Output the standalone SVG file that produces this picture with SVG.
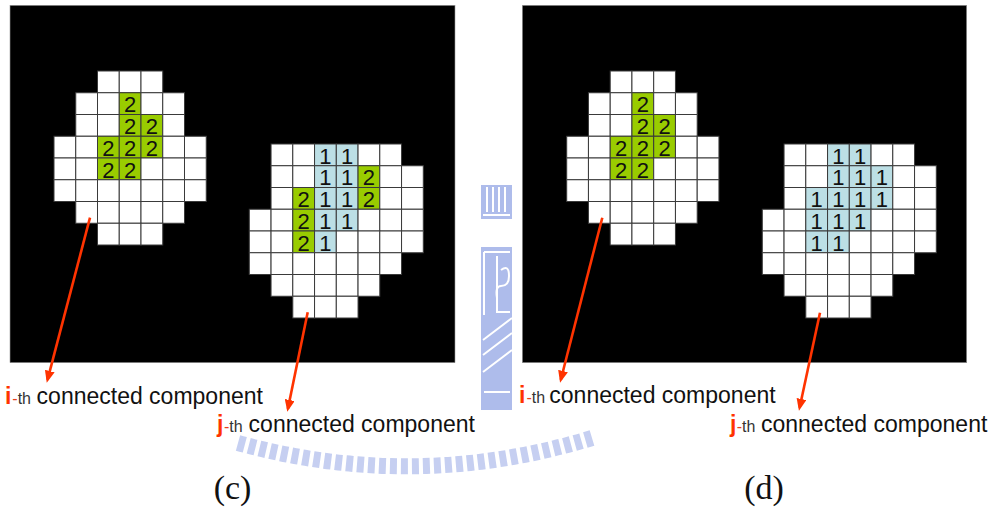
<svg xmlns="http://www.w3.org/2000/svg" width="996" height="508" viewBox="0 0 996 508">
<style>
.panel{fill:#000;stroke:#9a9a9a;stroke-width:0.6}
.w{fill:#fff;stroke:#3a3a3a;stroke-width:1}
.g{fill:#99cc00;stroke:#3a3a3a;stroke-width:1}
.b{fill:#bcdfe5;stroke:#3a3a3a;stroke-width:1}
.d{font-family:"Liberation Sans",Arial,sans-serif;font-size:22px;fill:#111;text-anchor:middle}
.lbl{font-family:"Liberation Sans",Arial,sans-serif;font-size:23px;fill:#111}
.ij{font-weight:bold;fill:#ff3300}
.th{font-size:16px;fill:#333}
.hy{fill:#e8401a}
.cap{font-family:"Liberation Serif","Times New Roman",serif;font-size:34px;fill:#111;text-anchor:middle}
.arr{stroke:#ff3300;stroke-width:2.6;fill:none;marker-end:url(#ah)}
.wm{fill:#aab9ea}
.wml{stroke:#fff;stroke-width:2;fill:none}
</style>
<defs>
<marker id="ah" viewBox="0 0 12 10" refX="9" refY="5" markerWidth="12" markerHeight="10" markerUnits="userSpaceOnUse" orient="auto">
<path d="M0,0 L12,5 L0,10 z" fill="#ff3300"/>
</marker>
</defs>
<rect width="996" height="508" fill="#fff"/>

<g id="watermark" opacity="0.95">
<rect class="wm" x="481" y="185" width="31" height="34"/>
<path class="wml" d="M487 187 V212 M493 187 V212 M499 187 V212 M505 187 V212 M483 215 H510"/>
<rect class="wm" x="481" y="247" width="31" height="163"/>
<path class="wml" d="M484 252 H510 M484 252 V315 M497 256 V312 H510 M501 270 q8 -6 8 6 q0 10 -8 10 q-6 0 -4 12 M483 340 L512 318 M483 355 L512 333 M483 372 L512 350 M484 392 H510"/>
<path d="M238 443 Q415 492 592 438" stroke="#c3cdf1" stroke-width="16" fill="none" stroke-dasharray="7 4"/>
</g>

<g id="panel-c">
<rect class="panel" x="10" y="5.3" width="445" height="357.4"/>
</g>
<g id="panel-d">
<rect class="panel" x="522.3" y="5.3" width="444.4" height="357.4"/>
</g>

<g id="blob-c-i" transform="translate(54,71)">
<rect class="w" x="43.5" y="0" width="21.75" height="21.75"/><rect class="w" x="65.25" y="0" width="21.75" height="21.75"/><rect class="w" x="87" y="0" width="21.75" height="21.75"/>
<rect class="w" x="21.75" y="21.75" width="21.75" height="21.75"/><rect class="w" x="43.5" y="21.75" width="21.75" height="21.75"/><rect class="g" x="65.25" y="21.75" width="21.75" height="21.75"/><rect class="w" x="87" y="21.75" width="21.75" height="21.75"/><rect class="w" x="108.75" y="21.75" width="21.75" height="21.75"/>
<rect class="w" x="21.75" y="43.5" width="21.75" height="21.75"/><rect class="w" x="43.5" y="43.5" width="21.75" height="21.75"/><rect class="g" x="65.25" y="43.5" width="21.75" height="21.75"/><rect class="g" x="87" y="43.5" width="21.75" height="21.75"/><rect class="w" x="108.75" y="43.5" width="21.75" height="21.75"/>
<rect class="w" x="0" y="65.25" width="21.75" height="21.75"/><rect class="w" x="21.75" y="65.25" width="21.75" height="21.75"/><rect class="g" x="43.5" y="65.25" width="21.75" height="21.75"/><rect class="g" x="65.25" y="65.25" width="21.75" height="21.75"/><rect class="g" x="87" y="65.25" width="21.75" height="21.75"/><rect class="w" x="108.75" y="65.25" width="21.75" height="21.75"/><rect class="w" x="130.5" y="65.25" width="21.75" height="21.75"/>
<rect class="w" x="0" y="87" width="21.75" height="21.75"/><rect class="w" x="21.75" y="87" width="21.75" height="21.75"/><rect class="g" x="43.5" y="87" width="21.75" height="21.75"/><rect class="g" x="65.25" y="87" width="21.75" height="21.75"/><rect class="w" x="87" y="87" width="21.75" height="21.75"/><rect class="w" x="108.75" y="87" width="21.75" height="21.75"/><rect class="w" x="130.5" y="87" width="21.75" height="21.75"/>
<rect class="w" x="0" y="108.75" width="21.75" height="21.75"/><rect class="w" x="21.75" y="108.75" width="21.75" height="21.75"/><rect class="w" x="43.5" y="108.75" width="21.75" height="21.75"/><rect class="w" x="65.25" y="108.75" width="21.75" height="21.75"/><rect class="w" x="87" y="108.75" width="21.75" height="21.75"/><rect class="w" x="108.75" y="108.75" width="21.75" height="21.75"/><rect class="w" x="130.5" y="108.75" width="21.75" height="21.75"/>
<rect class="w" x="21.75" y="130.5" width="21.75" height="21.75"/><rect class="w" x="43.5" y="130.5" width="21.75" height="21.75"/><rect class="w" x="65.25" y="130.5" width="21.75" height="21.75"/><rect class="w" x="87" y="130.5" width="21.75" height="21.75"/><rect class="w" x="108.75" y="130.5" width="21.75" height="21.75"/>
<rect class="w" x="43.5" y="152.25" width="21.75" height="21.75"/><rect class="w" x="65.25" y="152.25" width="21.75" height="21.75"/><rect class="w" x="87" y="152.25" width="21.75" height="21.75"/>
<text class="d" x="76.125" y="41.25">2</text>
<text class="d" x="76.125" y="63">2</text><text class="d" x="97.875" y="63">2</text>
<text class="d" x="54.375" y="84.75">2</text><text class="d" x="76.125" y="84.75">2</text><text class="d" x="97.875" y="84.75">2</text>
<text class="d" x="54.375" y="106.5">2</text><text class="d" x="76.125" y="106.5">2</text>
</g>

<g id="blob-c-j" transform="translate(249.3,144)">
<rect class="w" x="21.75" y="0" width="21.75" height="21.75"/><rect class="w" x="43.5" y="0" width="21.75" height="21.75"/><rect class="b" x="65.25" y="0" width="21.75" height="21.75"/><rect class="b" x="87" y="0" width="21.75" height="21.75"/><rect class="w" x="108.75" y="0" width="21.75" height="21.75"/><rect class="w" x="130.5" y="0" width="21.75" height="21.75"/>
<rect class="w" x="21.75" y="21.75" width="21.75" height="21.75"/><rect class="w" x="43.5" y="21.75" width="21.75" height="21.75"/><rect class="b" x="65.25" y="21.75" width="21.75" height="21.75"/><rect class="b" x="87" y="21.75" width="21.75" height="21.75"/><rect class="g" x="108.75" y="21.75" width="21.75" height="21.75"/><rect class="w" x="130.5" y="21.75" width="21.75" height="21.75"/><rect class="w" x="152.25" y="21.75" width="21.75" height="21.75"/>
<rect class="w" x="21.75" y="43.5" width="21.75" height="21.75"/><rect class="g" x="43.5" y="43.5" width="21.75" height="21.75"/><rect class="b" x="65.25" y="43.5" width="21.75" height="21.75"/><rect class="b" x="87" y="43.5" width="21.75" height="21.75"/><rect class="g" x="108.75" y="43.5" width="21.75" height="21.75"/><rect class="w" x="130.5" y="43.5" width="21.75" height="21.75"/><rect class="w" x="152.25" y="43.5" width="21.75" height="21.75"/>
<rect class="w" x="0" y="65.25" width="21.75" height="21.75"/><rect class="w" x="21.75" y="65.25" width="21.75" height="21.75"/><rect class="g" x="43.5" y="65.25" width="21.75" height="21.75"/><rect class="b" x="65.25" y="65.25" width="21.75" height="21.75"/><rect class="b" x="87" y="65.25" width="21.75" height="21.75"/><rect class="w" x="108.75" y="65.25" width="21.75" height="21.75"/><rect class="w" x="130.5" y="65.25" width="21.75" height="21.75"/><rect class="w" x="152.25" y="65.25" width="21.75" height="21.75"/>
<rect class="w" x="0" y="87" width="21.75" height="21.75"/><rect class="w" x="21.75" y="87" width="21.75" height="21.75"/><rect class="g" x="43.5" y="87" width="21.75" height="21.75"/><rect class="b" x="65.25" y="87" width="21.75" height="21.75"/><rect class="w" x="87" y="87" width="21.75" height="21.75"/><rect class="w" x="108.75" y="87" width="21.75" height="21.75"/><rect class="w" x="130.5" y="87" width="21.75" height="21.75"/><rect class="w" x="152.25" y="87" width="21.75" height="21.75"/>
<rect class="w" x="0" y="108.75" width="21.75" height="21.75"/><rect class="w" x="21.75" y="108.75" width="21.75" height="21.75"/><rect class="w" x="43.5" y="108.75" width="21.75" height="21.75"/><rect class="w" x="65.25" y="108.75" width="21.75" height="21.75"/><rect class="w" x="87" y="108.75" width="21.75" height="21.75"/><rect class="w" x="108.75" y="108.75" width="21.75" height="21.75"/><rect class="w" x="130.5" y="108.75" width="21.75" height="21.75"/>
<rect class="w" x="21.75" y="130.5" width="21.75" height="21.75"/><rect class="w" x="43.5" y="130.5" width="21.75" height="21.75"/><rect class="w" x="65.25" y="130.5" width="21.75" height="21.75"/><rect class="w" x="87" y="130.5" width="21.75" height="21.75"/><rect class="w" x="108.75" y="130.5" width="21.75" height="21.75"/>
<rect class="w" x="43.5" y="152.25" width="21.75" height="21.75"/><rect class="w" x="65.25" y="152.25" width="21.75" height="21.75"/><rect class="w" x="87" y="152.25" width="21.75" height="21.75"/>
<text class="d" x="76.125" y="19.5">1</text><text class="d" x="97.875" y="19.5">1</text>
<text class="d" x="76.125" y="41.25">1</text><text class="d" x="97.875" y="41.25">1</text><text class="d" x="119.625" y="41.25">2</text>
<text class="d" x="54.375" y="63">2</text><text class="d" x="76.125" y="63">1</text><text class="d" x="97.875" y="63">1</text><text class="d" x="119.625" y="63">2</text>
<text class="d" x="54.375" y="84.75">2</text><text class="d" x="76.125" y="84.75">1</text><text class="d" x="97.875" y="84.75">1</text>
<text class="d" x="54.375" y="106.5">2</text><text class="d" x="76.125" y="106.5">1</text>
</g>

<g id="blob-d-i" transform="translate(566.7,71)">
<rect class="w" x="43.5" y="0" width="21.75" height="21.75"/><rect class="w" x="65.25" y="0" width="21.75" height="21.75"/><rect class="w" x="87" y="0" width="21.75" height="21.75"/>
<rect class="w" x="21.75" y="21.75" width="21.75" height="21.75"/><rect class="w" x="43.5" y="21.75" width="21.75" height="21.75"/><rect class="g" x="65.25" y="21.75" width="21.75" height="21.75"/><rect class="w" x="87" y="21.75" width="21.75" height="21.75"/><rect class="w" x="108.75" y="21.75" width="21.75" height="21.75"/>
<rect class="w" x="21.75" y="43.5" width="21.75" height="21.75"/><rect class="w" x="43.5" y="43.5" width="21.75" height="21.75"/><rect class="g" x="65.25" y="43.5" width="21.75" height="21.75"/><rect class="g" x="87" y="43.5" width="21.75" height="21.75"/><rect class="w" x="108.75" y="43.5" width="21.75" height="21.75"/>
<rect class="w" x="0" y="65.25" width="21.75" height="21.75"/><rect class="w" x="21.75" y="65.25" width="21.75" height="21.75"/><rect class="g" x="43.5" y="65.25" width="21.75" height="21.75"/><rect class="g" x="65.25" y="65.25" width="21.75" height="21.75"/><rect class="g" x="87" y="65.25" width="21.75" height="21.75"/><rect class="w" x="108.75" y="65.25" width="21.75" height="21.75"/><rect class="w" x="130.5" y="65.25" width="21.75" height="21.75"/>
<rect class="w" x="0" y="87" width="21.75" height="21.75"/><rect class="w" x="21.75" y="87" width="21.75" height="21.75"/><rect class="g" x="43.5" y="87" width="21.75" height="21.75"/><rect class="g" x="65.25" y="87" width="21.75" height="21.75"/><rect class="w" x="87" y="87" width="21.75" height="21.75"/><rect class="w" x="108.75" y="87" width="21.75" height="21.75"/><rect class="w" x="130.5" y="87" width="21.75" height="21.75"/>
<rect class="w" x="0" y="108.75" width="21.75" height="21.75"/><rect class="w" x="21.75" y="108.75" width="21.75" height="21.75"/><rect class="w" x="43.5" y="108.75" width="21.75" height="21.75"/><rect class="w" x="65.25" y="108.75" width="21.75" height="21.75"/><rect class="w" x="87" y="108.75" width="21.75" height="21.75"/><rect class="w" x="108.75" y="108.75" width="21.75" height="21.75"/><rect class="w" x="130.5" y="108.75" width="21.75" height="21.75"/>
<rect class="w" x="21.75" y="130.5" width="21.75" height="21.75"/><rect class="w" x="43.5" y="130.5" width="21.75" height="21.75"/><rect class="w" x="65.25" y="130.5" width="21.75" height="21.75"/><rect class="w" x="87" y="130.5" width="21.75" height="21.75"/><rect class="w" x="108.75" y="130.5" width="21.75" height="21.75"/>
<rect class="w" x="43.5" y="152.25" width="21.75" height="21.75"/><rect class="w" x="65.25" y="152.25" width="21.75" height="21.75"/><rect class="w" x="87" y="152.25" width="21.75" height="21.75"/>
<text class="d" x="76.125" y="41.25">2</text>
<text class="d" x="76.125" y="63">2</text><text class="d" x="97.875" y="63">2</text>
<text class="d" x="54.375" y="84.75">2</text><text class="d" x="76.125" y="84.75">2</text><text class="d" x="97.875" y="84.75">2</text>
<text class="d" x="54.375" y="106.5">2</text><text class="d" x="76.125" y="106.5">2</text>
</g>

<g id="blob-d-j" transform="translate(762.3,144)">
<rect class="w" x="21.75" y="0" width="21.75" height="21.75"/><rect class="w" x="43.5" y="0" width="21.75" height="21.75"/><rect class="b" x="65.25" y="0" width="21.75" height="21.75"/><rect class="b" x="87" y="0" width="21.75" height="21.75"/><rect class="w" x="108.75" y="0" width="21.75" height="21.75"/><rect class="w" x="130.5" y="0" width="21.75" height="21.75"/>
<rect class="w" x="21.75" y="21.75" width="21.75" height="21.75"/><rect class="w" x="43.5" y="21.75" width="21.75" height="21.75"/><rect class="b" x="65.25" y="21.75" width="21.75" height="21.75"/><rect class="b" x="87" y="21.75" width="21.75" height="21.75"/><rect class="b" x="108.75" y="21.75" width="21.75" height="21.75"/><rect class="w" x="130.5" y="21.75" width="21.75" height="21.75"/><rect class="w" x="152.25" y="21.75" width="21.75" height="21.75"/>
<rect class="w" x="21.75" y="43.5" width="21.75" height="21.75"/><rect class="b" x="43.5" y="43.5" width="21.75" height="21.75"/><rect class="b" x="65.25" y="43.5" width="21.75" height="21.75"/><rect class="b" x="87" y="43.5" width="21.75" height="21.75"/><rect class="b" x="108.75" y="43.5" width="21.75" height="21.75"/><rect class="w" x="130.5" y="43.5" width="21.75" height="21.75"/><rect class="w" x="152.25" y="43.5" width="21.75" height="21.75"/>
<rect class="w" x="0" y="65.25" width="21.75" height="21.75"/><rect class="w" x="21.75" y="65.25" width="21.75" height="21.75"/><rect class="b" x="43.5" y="65.25" width="21.75" height="21.75"/><rect class="b" x="65.25" y="65.25" width="21.75" height="21.75"/><rect class="b" x="87" y="65.25" width="21.75" height="21.75"/><rect class="w" x="108.75" y="65.25" width="21.75" height="21.75"/><rect class="w" x="130.5" y="65.25" width="21.75" height="21.75"/><rect class="w" x="152.25" y="65.25" width="21.75" height="21.75"/>
<rect class="w" x="0" y="87" width="21.75" height="21.75"/><rect class="w" x="21.75" y="87" width="21.75" height="21.75"/><rect class="b" x="43.5" y="87" width="21.75" height="21.75"/><rect class="b" x="65.25" y="87" width="21.75" height="21.75"/><rect class="w" x="87" y="87" width="21.75" height="21.75"/><rect class="w" x="108.75" y="87" width="21.75" height="21.75"/><rect class="w" x="130.5" y="87" width="21.75" height="21.75"/><rect class="w" x="152.25" y="87" width="21.75" height="21.75"/>
<rect class="w" x="0" y="108.75" width="21.75" height="21.75"/><rect class="w" x="21.75" y="108.75" width="21.75" height="21.75"/><rect class="w" x="43.5" y="108.75" width="21.75" height="21.75"/><rect class="w" x="65.25" y="108.75" width="21.75" height="21.75"/><rect class="w" x="87" y="108.75" width="21.75" height="21.75"/><rect class="w" x="108.75" y="108.75" width="21.75" height="21.75"/><rect class="w" x="130.5" y="108.75" width="21.75" height="21.75"/>
<rect class="w" x="21.75" y="130.5" width="21.75" height="21.75"/><rect class="w" x="43.5" y="130.5" width="21.75" height="21.75"/><rect class="w" x="65.25" y="130.5" width="21.75" height="21.75"/><rect class="w" x="87" y="130.5" width="21.75" height="21.75"/><rect class="w" x="108.75" y="130.5" width="21.75" height="21.75"/>
<rect class="w" x="43.5" y="152.25" width="21.75" height="21.75"/><rect class="w" x="65.25" y="152.25" width="21.75" height="21.75"/><rect class="w" x="87" y="152.25" width="21.75" height="21.75"/>
<text class="d" x="76.125" y="19.5">1</text><text class="d" x="97.875" y="19.5">1</text>
<text class="d" x="76.125" y="41.25">1</text><text class="d" x="97.875" y="41.25">1</text><text class="d" x="119.625" y="41.25">1</text>
<text class="d" x="54.375" y="63">1</text><text class="d" x="76.125" y="63">1</text><text class="d" x="97.875" y="63">1</text><text class="d" x="119.625" y="63">1</text>
<text class="d" x="54.375" y="84.75">1</text><text class="d" x="76.125" y="84.75">1</text><text class="d" x="97.875" y="84.75">1</text>
<text class="d" x="54.375" y="106.5">1</text><text class="d" x="76.125" y="106.5">1</text>
</g>

<g id="connectors">
<line class="arr" x1="90" y1="217.7" x2="47.5" y2="379.8"/>
<line class="arr" x1="307.7" y1="312.3" x2="287.9" y2="408.8"/>
<line class="arr" x1="602.3" y1="217.7" x2="560.8" y2="379.8"/>
<line class="arr" x1="820" y1="312.7" x2="799.6" y2="407.8"/>
</g>

<g id="label-c-i">
<text class="lbl" x="5" y="404"><tspan class="ij">i</tspan><tspan class="th hy" x="12.3">-</tspan><tspan class="th">th</tspan><tspan x="36.6">connected component</tspan></text>
</g>
<g id="label-c-j">
<text class="lbl" x="217" y="431.7"><tspan class="ij">j</tspan><tspan class="th hy" x="224">-</tspan><tspan class="th">th</tspan><tspan x="248.6">connected component</tspan></text>
</g>
<g id="label-d-i">
<text class="lbl" x="519" y="403.3"><tspan class="ij">i</tspan><tspan class="th hy" x="526.5">-</tspan><tspan class="th">th</tspan><tspan x="549.3">connected component</tspan></text>
</g>
<g id="label-d-j">
<text class="lbl" x="730" y="431.7"><tspan class="ij">j</tspan><tspan class="th hy" x="736.7">-</tspan><tspan class="th">th</tspan><tspan x="761">connected component</tspan></text>
</g>

<g id="caption-c"><text class="cap" x="232.5" y="499">(c)</text></g>
<g id="caption-d"><text class="cap" x="764" y="499">(d)</text></g>
</svg>
